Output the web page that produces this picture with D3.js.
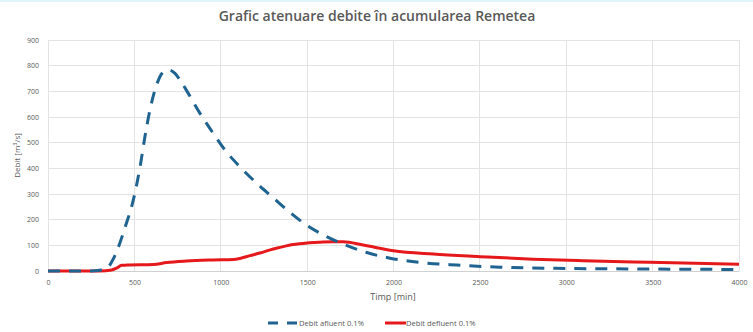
<!DOCTYPE html>
<html>
<head>
<meta charset="utf-8">
<script src="https://cdn.jsdelivr.net/npm/d3@7"></script>
<style>
  html, body { margin: 0; padding: 0; background: #ffffff; }
  svg { display: block; }
</style>
</head>
<body>
<svg id="chart" width="753" height="332"></svg>
<script>
// ---- data ----
const titleText = "Grafic atenuare debite în acumularea Remetea";
const xTicks = [0, 500, 1000, 1500, 2000, 2500, 3000, 3500, 4000];
const yTicks = [0, 100, 200, 300, 400, 500, 600, 700, 800, 900];

const afluentTime = [0, 250, 300, 340, 369, 400, 446, 494, 533, 561, 590, 619, 648, 677, 700, 735, 764, 812, 880, 957, 1025, 1111, 1208, 1304, 1401, 1498, 1613, 1739, 1845, 1980, 2173, 2366, 2617, 3003, 3388, 4000];
const afluentQ    = [0, 0, 3, 10, 36, 80, 170, 277, 406, 523, 627, 705, 757, 780, 783, 770, 744, 692, 614, 536, 471, 406, 342, 285, 228, 178, 134, 97, 72, 50, 32, 23, 15, 10, 8, 6];

const defluentTime = [0, 300, 369, 400, 426, 455, 610, 687, 803, 957, 1073, 1111, 1169, 1227, 1304, 1343, 1420, 1500, 1575, 1650, 1709, 1825, 1999, 2230, 2500, 2809, 3099, 3485, 4000];
const defluentQ    = [0, 0, 4, 12, 22, 23, 25, 33, 39, 43, 45, 49, 60, 70, 86, 92, 103, 109, 112, 114, 114, 101, 79, 66, 56, 46, 40, 34, 26];

const seriesNames = ["Debit afluent 0.1%", "Debit defluent 0.1%"];

// ---- layout ----
const svg = d3.select("#chart");
const W = 753, H = 332;
const m = { left: 48, right: 14, top: 40, bottom: 61 };
const x = d3.scaleLinear().domain([0, 4000]).range([m.left, W - m.right]);
const y = d3.scaleLinear().domain([0, 900]).range([H - m.bottom, m.top]);

const gray = "#595959";
const font = "'Open Sans', 'DejaVu Sans', sans-serif";

// frame top edge (light cyan)
svg.append("rect").attr("x", 0).attr("y", 0).attr("width", W).attr("height", 2).attr("fill", "#dff6fb");

// title
svg.append("text")
  .attr("x", 377).attr("y", 21)
  .attr("text-anchor", "middle")
  .attr("font-family", font).attr("font-weight", 600)
  .attr("font-size", 14).attr("fill", gray)
  .text(titleText);

// gridlines
const grid = svg.append("g");
grid.selectAll("line.h").data(yTicks).join("line")
  .attr("x1", x(0)).attr("x2", x(4000))
  .attr("y1", d => y(d)).attr("y2", d => y(d))
  .attr("stroke", "#e3e3e3").attr("stroke-width", 1).attr("shape-rendering", "crispEdges");
grid.selectAll("line.v").data(xTicks).join("line")
  .attr("y1", y(0)).attr("y2", y(900))
  .attr("x1", d => x(d)).attr("x2", d => x(d))
  .attr("stroke", "#e3e3e3").attr("stroke-width", 1).attr("shape-rendering", "crispEdges");

// axes
const xAxis = d3.axisBottom(x).tickValues(xTicks).tickFormat(d3.format("d")).tickSize(0).tickPadding(9);
const gx = svg.append("g").attr("transform", `translate(0,${y(0)})`).call(xAxis);
gx.select(".domain").attr("stroke", "#d0d0d0");
gx.selectAll("text").attr("font-family", font).attr("font-size", 7).attr("fill", gray);

const yAxis = d3.axisLeft(y).tickValues(yTicks).tickFormat(d3.format("d")).tickSize(0).tickPadding(9);
const gy = svg.append("g").attr("transform", `translate(${x(0)},0)`).call(yAxis);
gy.select(".domain").remove();
gy.selectAll("text").attr("font-family", font).attr("font-size", 7).attr("fill", gray);

// axis titles
svg.append("text")
  .attr("x", 393).attr("y", 300)
  .attr("text-anchor", "middle")
  .attr("font-family", font).attr("font-size", 9).attr("fill", gray)
  .text("Timp [min]");

const yl = svg.append("text")
  .attr("transform", `translate(20,${(y(0) + y(900)) / 2}) rotate(-90)`)
  .attr("text-anchor", "middle")
  .attr("font-family", font).attr("font-size", 8).attr("fill", gray);
yl.append("tspan").text("Debit [m");
yl.append("tspan").attr("font-size", 5.5).attr("dy", -3).text("3");
yl.append("tspan").attr("dy", 3).text("/s]");

// lines
const line = d3.line().x(d => x(d[0])).y(d => y(d[1])).curve(d3.curveMonotoneX);
const afl = afluentTime.map((t, i) => [t, afluentQ[i]]);
const def = defluentTime.map((t, i) => [t, defluentQ[i]]);

const blue = "#1f6391";
const red = "#e5191b";

svg.append("path").datum(def)
  .attr("d", line).attr("fill", "none")
  .attr("stroke", red).attr("stroke-width", 3).attr("stroke-linejoin", "round");

svg.append("path").datum(afl)
  .attr("d", line).attr("fill", "none")
  .attr("stroke", blue).attr("stroke-width", 3)
  .attr("stroke-dasharray", "12,9");

// legend
const lg = svg.append("g");
lg.append("line").attr("x1", 268).attr("x2", 298).attr("y1", 323).attr("y2", 323)
  .attr("stroke", blue).attr("stroke-width", 3).attr("stroke-dasharray", "10,9");
lg.append("text").attr("x", 299).attr("y", 326)
  .attr("font-family", font).attr("font-size", 7.6).attr("fill", gray).text(seriesNames[0]);
lg.append("line").attr("x1", 385).attr("x2", 406).attr("y1", 323).attr("y2", 323)
  .attr("stroke", red).attr("stroke-width", 3);
lg.append("text").attr("x", 406).attr("y", 326)
  .attr("font-family", font).attr("font-size", 7.6).attr("fill", gray).text(seriesNames[1]);
</script>
</body>
</html>
